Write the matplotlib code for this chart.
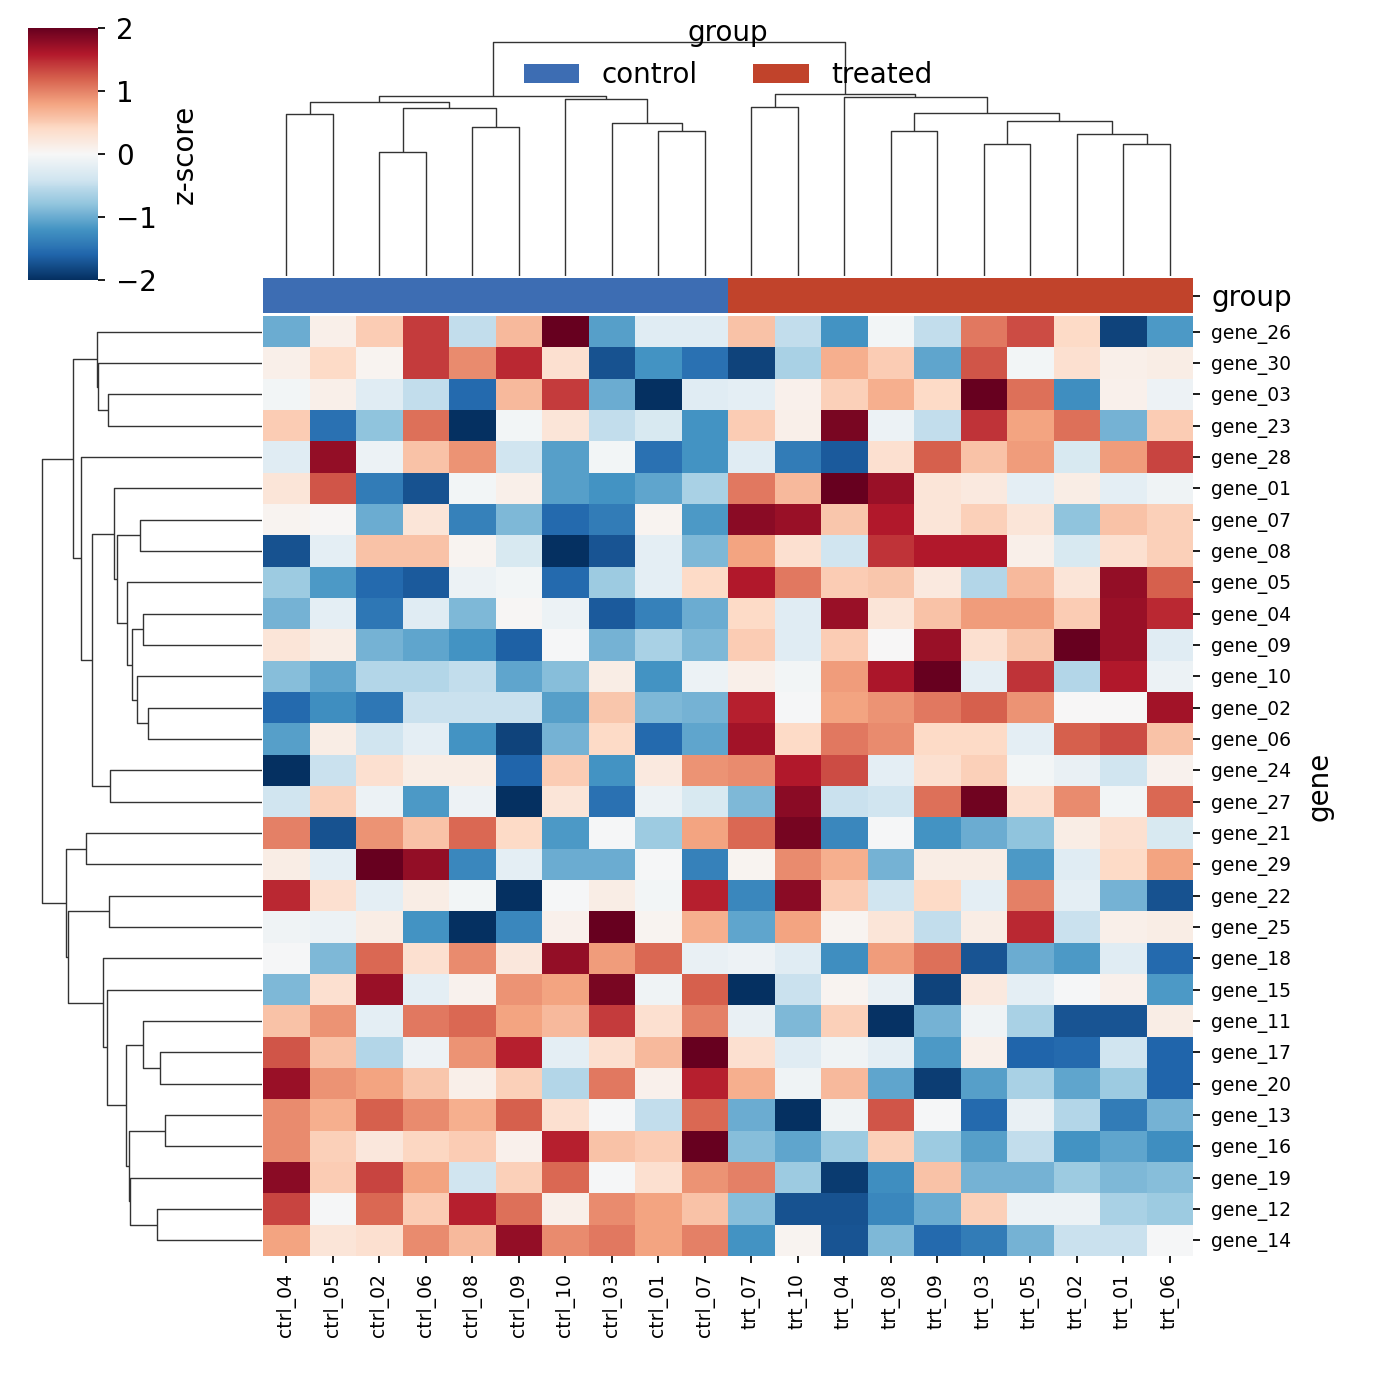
import numpy as np
import matplotlib
matplotlib.use("Agg")
import matplotlib.pyplot as plt
from matplotlib.collections import LineCollection
from matplotlib.colors import ListedColormap
from matplotlib.patches import Patch

plt.rcParams.update({
    "font.family": "DejaVu Sans",
    "font.size": 20,
    "xtick.major.size": 5,
    "ytick.major.size": 5,
    "xtick.major.width": 1.25,
    "ytick.major.width": 1.25,
})

# display order (after clustering)
genes = ["gene_26", "gene_30", "gene_03", "gene_23", "gene_28", "gene_01", "gene_07",
         "gene_08", "gene_05", "gene_04", "gene_09", "gene_10", "gene_02", "gene_06",
         "gene_24", "gene_27", "gene_21", "gene_29", "gene_22", "gene_25", "gene_18",
         "gene_15", "gene_11", "gene_17", "gene_20", "gene_13", "gene_16", "gene_19",
         "gene_12", "gene_14"]
samples = ["ctrl_04", "ctrl_05", "ctrl_02", "ctrl_06", "ctrl_08", "ctrl_09", "ctrl_10",
           "ctrl_03", "ctrl_01", "ctrl_07", "trt_07", "trt_10", "trt_04", "trt_08",
           "trt_09", "trt_03", "trt_05", "trt_02", "trt_01", "trt_06"]
groups = ["control"] * 10 + ["treated"] * 10
group_names = ["control", "treated"]
group_colors = ["#3d6db3", "#c1432b"]

zscores = [
    [-1.0, 0.12, 0.5, 1.4, -0.5, 0.65, 2.1, -1.1, -0.25, -0.25, 0.58, -0.5, -1.2, -0.05, -0.5, 1.05, 1.3, 0.4, -1.85, -1.15],
    [0.12, 0.4, 0.05, 1.4, 0.95, 1.5, 0.32, -1.75, -1.2, -1.5, -1.85, -0.65, 0.72, 0.5, -1.05, 1.25, -0.05, 0.32, 0.12, 0.15],
    [-0.05, 0.12, -0.25, -0.5, -1.55, 0.65, 1.4, -1.0, -2.1, -0.25, -0.2, 0.1, 0.47, 0.72, 0.4, 2.1, 1.1, -1.25, 0.1, -0.1],
    [0.5, -1.5, -0.8, 1.1, -2.1, -0.05, 0.25, -0.5, -0.32, -1.2, 0.5, 0.12, 1.9, -0.12, -0.5, 1.45, 0.8, 1.1, -0.95, 0.5],
    [-0.25, 1.75, -0.12, 0.58, 0.9, -0.4, -1.1, -0.05, -1.5, -1.2, -0.25, -1.4, -1.68, 0.32, 1.2, 0.58, 0.85, -0.32, 0.85, 1.35],
    [0.25, 1.25, -1.4, -1.75, -0.05, 0.12, -1.1, -1.2, -1.05, -0.65, 1.05, 0.65, 2.1, 1.72, 0.25, 0.2, -0.2, 0.15, -0.2, -0.08],
    [0.05, 0.03, -1.0, 0.25, -1.35, -0.9, -1.55, -1.4, 0.05, -1.15, 1.8, 1.72, 0.55, 1.6, 0.25, 0.47, 0.25, -0.8, 0.58, 0.47],
    [-1.75, -0.2, 0.58, 0.58, 0.05, -0.32, -2.0, -1.72, -0.2, -0.9, 0.8, 0.32, -0.4, 1.45, 1.6, 1.6, 0.12, -0.32, 0.32, 0.47],
    [-0.72, -1.15, -1.55, -1.68, -0.12, -0.05, -1.55, -0.72, -0.2, 0.4, 1.6, 1.05, 0.5, 0.55, 0.2, -0.58, 0.65, 0.25, 1.75, 1.2],
    [-0.95, -0.2, -1.45, -0.25, -0.9, 0.03, -0.12, -1.68, -1.35, -1.0, 0.4, -0.25, 1.72, 0.25, 0.58, 0.85, 0.85, 0.5, 1.72, 1.5],
    [0.25, 0.15, -0.95, -1.05, -1.2, -1.63, -0.03, -0.95, -0.65, -0.9, 0.5, -0.25, 0.5, 0.0, 1.72, 0.32, 0.55, 2.1, 1.72, -0.25],
    [-0.85, -1.05, -0.58, -0.58, -0.5, -1.05, -0.85, 0.15, -1.2, -0.12, 0.12, -0.05, 0.85, 1.63, 2.1, -0.2, 1.45, -0.58, 1.6, -0.12],
    [-1.55, -1.25, -1.45, -0.45, -0.45, -0.45, -1.1, 0.55, -0.9, -0.95, 1.55, -0.03, 0.8, 0.9, 1.05, 1.2, 0.9, 0.0, 0.0, 1.68],
    [-1.1, 0.15, -0.4, -0.2, -1.2, -1.85, -0.95, 0.4, -1.55, -1.05, 1.68, 0.4, 1.05, 0.95, 0.4, 0.4, -0.2, 1.2, 1.3, 0.58],
    [-2.1, -0.45, 0.32, 0.15, 0.15, -1.6, 0.5, -1.2, 0.2, 0.9, 0.95, 1.6, 1.3, -0.2, 0.32, 0.47, -0.05, -0.15, -0.4, 0.08],
    [-0.4, 0.47, -0.12, -1.15, -0.1, -2.1, 0.25, -1.5, -0.12, -0.32, -0.9, 1.8, -0.45, -0.4, 1.1, 1.95, 0.32, 0.95, -0.05, 1.15],
    [1.0, -1.75, 0.9, 0.58, 1.15, 0.4, -1.15, -0.03, -0.72, 0.8, 1.15, 1.92, -1.3, -0.03, -1.2, -1.0, -0.8, 0.15, 0.32, -0.32],
    [0.15, -0.2, 2.1, 1.75, -1.3, -0.2, -1.0, -1.0, -0.02, -1.35, 0.05, 0.95, 0.72, -0.95, 0.15, 0.15, -1.15, -0.25, 0.4, 0.8],
    [1.5, 0.32, -0.2, 0.15, -0.05, -2.1, -0.02, 0.15, -0.05, 1.55, -1.3, 1.8, 0.5, -0.4, 0.4, -0.2, 1.0, -0.2, -0.95, -1.75],
    [-0.08, -0.12, 0.15, -1.2, -2.1, -1.3, 0.1, 2.1, 0.05, 0.72, -1.05, 0.8, 0.05, 0.25, -0.5, 0.15, 1.5, -0.45, 0.12, 0.15],
    [-0.03, -0.9, 1.15, 0.32, 0.95, 0.22, 1.75, 0.85, 1.15, -0.15, -0.1, -0.25, -1.25, 0.85, 1.1, -1.72, -1.0, -1.15, -0.25, -1.55],
    [-0.9, 0.32, 1.72, -0.2, 0.08, 0.9, 0.8, 1.9, -0.08, 1.2, -2.1, -0.45, 0.05, -0.15, -1.85, 0.2, -0.2, -0.03, 0.1, -1.15],
    [0.58, 0.9, -0.2, 1.05, 1.15, 0.8, 0.65, 1.4, 0.32, 1.0, -0.15, -0.9, 0.47, -1.98, -0.95, -0.08, -0.65, -1.72, -1.72, 0.15],
    [1.25, 0.58, -0.58, -0.1, 0.9, 1.55, -0.2, 0.32, 0.65, 2.1, 0.32, -0.25, -0.08, -0.2, -1.15, 0.12, -1.6, -1.55, -0.4, -1.6],
    [1.72, 0.9, 0.8, 0.55, 0.12, 0.47, -0.58, 1.05, 0.1, 1.55, 0.72, -0.08, 0.65, -1.05, -1.9, -1.1, -0.65, -1.05, -0.72, -1.6],
    [0.95, 0.72, 1.2, 0.95, 0.72, 1.2, 0.32, -0.03, -0.5, 1.15, -1.0, -2.1, -0.08, 1.25, -0.03, -1.55, -0.15, -0.58, -1.4, -0.95],
    [0.95, 0.47, 0.22, 0.43, 0.5, 0.1, 1.55, 0.58, 0.5, 2.1, -0.85, -1.05, -0.72, 0.47, -0.72, -1.1, -0.5, -1.2, -1.05, -1.25],
    [1.8, 0.5, 1.35, 0.8, -0.4, 0.47, 1.15, -0.02, 0.32, 0.9, 1.0, -0.72, -1.92, -1.25, 0.58, -0.95, -0.95, -0.72, -0.9, -0.85],
    [1.35, -0.03, 1.15, 0.5, 1.55, 1.1, 0.12, 0.95, 0.8, 0.58, -0.85, -1.75, -1.75, -1.3, -1.0, 0.47, -0.12, -0.12, -0.65, -0.72],
    [0.8, 0.25, 0.32, 0.95, 0.65, 1.75, 0.95, 1.05, 0.8, 1.0, -1.2, 0.05, -1.72, -0.9, -1.55, -1.4, -0.95, -0.45, -0.45, -0.03],
]

# linkage in scipy style: (left, right, height); ids >= n are earlier merges
col_linkage = [
    (0, 1, 160), (2, 3, 122), (4, 5, 147), (21, 22, 166), (20, 23, 172),
    (8, 9, 143), (7, 25, 151), (6, 26, 175), (24, 27, 177), (10, 11, 167),
    (13, 14, 143), (15, 16, 130), (18, 19, 130), (17, 32, 140), (31, 33, 153),
    (30, 34, 161), (12, 35, 176), (29, 36, 179), (28, 37, 231),
]
row_linkage = [
    (2, 3, 154), (1, 30, 164), (0, 31, 165), (6, 7, 122), (9, 10, 119),
    (12, 13, 114), (11, 35, 125), (34, 36, 130), (8, 37, 135), (33, 38, 145),
    (5, 39, 148), (14, 15, 152), (40, 41, 170), (4, 42, 181), (32, 43, 189),
    (16, 17, 176), (18, 19, 153), (23, 24, 102), (22, 47, 119), (25, 26, 97),
    (28, 29, 105), (27, 50, 132), (49, 51, 133), (48, 52, 136), (21, 53, 155),
    (20, 54, 159), (46, 55, 194), (45, 56, 196), (44, 57, 220),
]


def dendro_segments(linkage, n):
    pos = {i: i + 0.5 for i in range(n)}
    hgt = {i: 0.0 for i in range(n)}
    segs = []
    for k, (a, b, h) in enumerate(linkage):
        segs.append([(pos[a], hgt[a]), (pos[a], h), (pos[b], h), (pos[b], hgt[b])])
        pos[n + k] = (pos[a] + pos[b]) / 2
        hgt[n + k] = h
    return segs


W = H = 1400.0


def px_axes(x0, y0, x1, y1):
    return fig.add_axes([x0 / W, 1 - y1 / H, (x1 - x0) / W, (y1 - y0) / H])


fig = plt.figure(figsize=(14, 14), dpi=100)

ax_heat = px_axes(263, 316, 1193, 1256)
ax_colc = px_axes(263, 278, 1193, 313)
ax_cden = px_axes(263, 30, 1193, 276)
ax_rden = px_axes(31, 316, 262, 1256)
ax_cbar = px_axes(28, 28, 98, 280)

n_rows, n_cols = len(genes), len(samples)

# heatmap
mesh = ax_heat.pcolormesh(np.array(zscores), cmap="RdBu_r", vmin=-2, vmax=2)
ax_heat.set_xlim(0, n_cols)
ax_heat.set_ylim(n_rows, 0)
ax_heat.set_xticks(np.arange(n_cols) + 0.5)
ax_heat.set_xticklabels(samples, rotation=90, fontsize=13.5)
ax_heat.yaxis.tick_right()
ax_heat.yaxis.set_label_position("right")
ax_heat.set_yticks(np.arange(n_rows) + 0.5)
ax_heat.set_yticklabels(genes, rotation=0, fontsize=13.5)
ax_heat.tick_params(axis="y", pad=8)
ax_heat.tick_params(axis="x", pad=7)
ax_heat.set_ylabel("gene", fontsize=20, labelpad=10)
for s in ax_heat.spines.values():
    s.set_visible(False)

# column colour bar
grp_idx = np.array([[group_names.index(g) for g in groups]])
ax_colc.pcolormesh(grp_idx, cmap=ListedColormap(group_colors), vmin=0, vmax=1)
ax_colc.set_xlim(0, n_cols)
ax_colc.set_xticks([])
ax_colc.yaxis.tick_right()
ax_colc.set_yticks([0.5])
ax_colc.set_yticklabels(["group"], fontsize=20)
ax_colc.tick_params(axis="y", pad=8)
for s in ax_colc.spines.values():
    s.set_visible(False)

# dendrograms
csegs = dendro_segments(col_linkage, n_cols)
ax_cden.add_collection(LineCollection(csegs, colors=".2", linewidths=1.0))
ax_cden.set_xlim(0, n_cols)
ax_cden.set_ylim(0, max(h for _, _, h in col_linkage) * 1.05)
ax_cden.set_axis_off()

rsegs = dendro_segments(row_linkage, n_rows)
rsegs = [[(y, x) for x, y in seg] for seg in rsegs]
ax_rden.add_collection(LineCollection(rsegs, colors=".2", linewidths=1.0))
ax_rden.set_ylim(n_rows, 0)
ax_rden.set_xlim(max(h for _, _, h in row_linkage) * 1.05, 0)
ax_rden.set_axis_off()

# colour bar
cbar = fig.colorbar(mesh, cax=ax_cbar)
cbar.outline.set_visible(False)
cbar.set_ticks([-2, -1, 0, 1, 2])
cbar.ax.tick_params(labelsize=20, pad=8)
cbar.set_label("z-score", fontsize=20, labelpad=10)

# legend
handles = [Patch(facecolor=c, label=g) for g, c in zip(group_names, group_colors)]
fig.legend(handles=handles, title="group", ncol=2, frameon=False,
           loc="center", bbox_to_anchor=(728 / W, 1 - 54 / H),
           fontsize=20, title_fontsize=20)

fig.savefig("out.png", dpi=100)
